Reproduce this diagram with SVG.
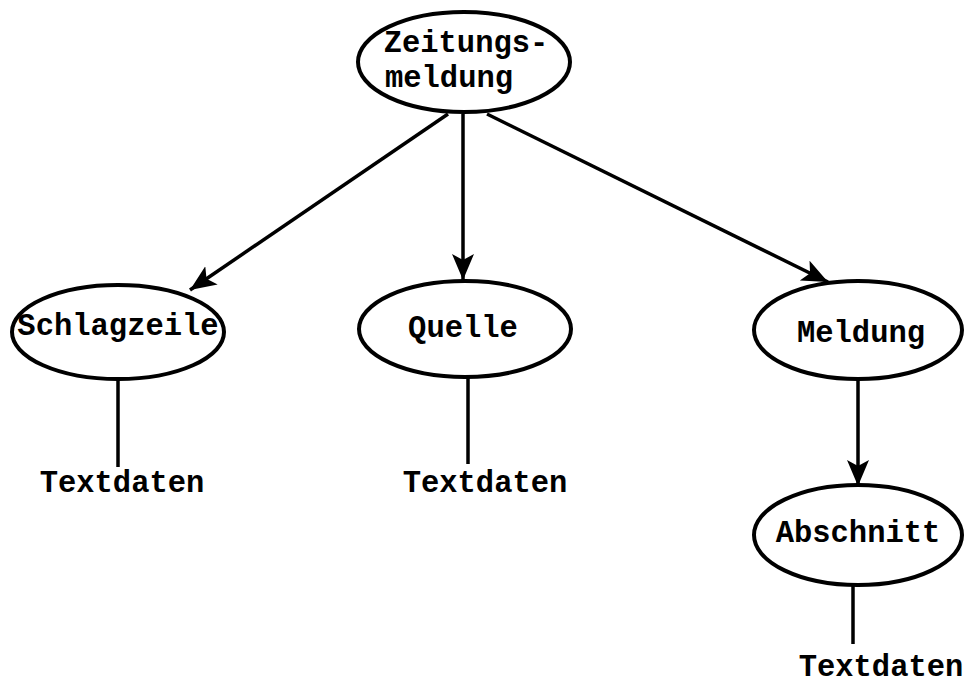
<svg xmlns="http://www.w3.org/2000/svg" width="966" height="684" viewBox="0 0 966 684">
<style>
  .n ellipse { fill: #fff; stroke: #000; stroke-width: 4; }
  text { font-family: "Liberation Mono", "Courier New", monospace; font-weight: bold; font-size: 30.5px; fill: #000; text-anchor: middle; }
  .e { stroke: #000; stroke-width: 3.5; fill: none; }
</style>
<defs>
  <marker id="ah" markerUnits="userSpaceOnUse" markerWidth="30" markerHeight="24" refX="26" refY="11" orient="auto">
    <path d="M0,0 L26,11 L0,22 L6,11 Z" fill="#000"/>
  </marker>
</defs>
<rect width="966" height="684" fill="#fff"/>
<g id="connectors">
  <line class="e" x1="448" y1="114" x2="190" y2="290" marker-end="url(#ah)"/>
  <line class="e" x1="463" y1="114" x2="463" y2="280" marker-end="url(#ah)"/>
  <line class="e" x1="487" y1="114" x2="828" y2="282" marker-end="url(#ah)"/>
  <line class="e" x1="858" y1="380" x2="858" y2="486" marker-end="url(#ah)"/>
  <line class="e" x1="118" y1="380" x2="118" y2="467"/>
  <line class="e" x1="468" y1="378" x2="468" y2="464"/>
  <line class="e" x1="853" y1="585" x2="853" y2="644"/>
</g>
<g id="zeitungsmeldung" class="n">
  <ellipse cx="464" cy="62" rx="106" ry="50"/>
  <text x="466" y="52">Zeitungs-</text>
  <text x="449" y="87">meldung</text>
</g>
<g id="schlagzeile" class="n">
  <ellipse cx="118" cy="332" rx="106" ry="47"/>
  <text x="118" y="335">Schlagzeile</text>
</g>
<g id="quelle" class="n">
  <ellipse cx="465" cy="329" rx="106" ry="48"/>
  <text x="463" y="337">Quelle</text>
</g>
<g id="meldung" class="n">
  <ellipse cx="858" cy="330" rx="104" ry="49"/>
  <text x="861" y="342">Meldung</text>
</g>
<g id="abschnitt" class="n">
  <ellipse cx="858" cy="535" rx="104" ry="50"/>
  <text x="858" y="542">Abschnitt</text>
</g>
<g id="textdaten1"><text x="122" y="492">Textdaten</text></g>
<g id="textdaten2"><text x="485" y="492">Textdaten</text></g>
<g id="textdaten3"><text x="881" y="676">Textdaten</text></g>
</svg>
